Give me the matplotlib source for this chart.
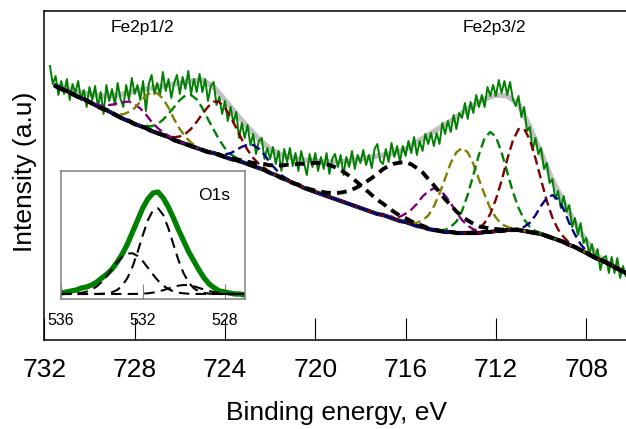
import numpy as np
import matplotlib
matplotlib.use('Agg')
import matplotlib.pyplot as plt

plt.rcParams['font.family'] = ['Liberation Sans', 'DejaVu Sans']

# --- Fe2p spectrum (raw counts, arbitrary units), 731.75 -> 706.25 eV every 0.125 eV
spectrum = [
    274, 256, 264, 245, 259, 246, 261,
    240, 256, 247, 259, 240, 250, 233, 253,
    240, 254, 233, 248, 226, 255, 239, 251,
    235, 257, 241, 233, 255, 240, 262, 246,
    255, 240, 259, 229, 256, 265, 246, 257,
    245, 268, 249, 261, 242, 257, 265, 246,
    263, 251, 269, 246, 261, 248, 266, 248,
    261, 239, 254, 258, 235, 243, 226, 239,
    219, 233, 217, 228, 202, 217, 202, 215,
    195, 206, 186, 199, 202, 181, 192, 181,
    193, 176, 189, 169, 191, 178, 192, 174,
    187, 169, 189, 177, 165, 186, 173, 187,
    169, 183, 171, 187, 166, 181, 186, 173,
    185, 165, 183, 173, 189, 171, 185, 177,
    190, 175, 185, 172, 191, 196, 179, 176,
    191, 178, 197, 183, 194, 178, 194, 184,
    199, 187, 203, 185, 199, 189, 206, 196,
    207, 194, 207, 196, 217, 206, 219, 208,
    225, 211, 227, 222, 237, 221, 238, 227,
    245, 233, 245, 233, 253, 244, 255, 244,
    260, 247, 259, 245, 258, 241, 234, 244,
    223, 233, 209, 213, 190, 202, 186, 192,
    171, 177, 157, 161, 141, 149, 132, 144,
    128, 135, 113, 122, 105, 117, 97, 102,
    86, 96, 81, 91, 70, 82, 84, 67,
    83, 67, 82, 62, 74, 64,
]
spec_e = np.linspace(731.75, 706.25, len(spectrum))

# fit envelope, 731.5 -> 706.5 eV every 0.5 eV
envelope = [255, 251, 248, 246, 244, 244, 246, 249, 251, 253,
            255, 257, 259, 260, 253, 240, 226, 213, 201, 191,
            185, 182, 180, 179, 178, 178, 179, 181, 183, 185,
            187, 191, 198, 205, 212, 219, 227, 235, 241, 245,
            244, 236, 213, 187, 160, 138, 117, 99, 84, 76, 70]
env_e = np.linspace(731.5, 706.5, len(envelope))

# Shirley background, 731.5 -> 706.25 eV every 0.25 eV
background = np.array([
    254, 251, 249,
    246, 243, 241, 238, 235, 232, 230, 227, 224, 221, 219, 216,
    214, 212, 209, 207, 205, 203, 200, 198, 196, 194, 192, 190,
    188, 187, 185, 183, 181, 180, 178, 176, 174, 172, 170, 167,
    165, 162, 160, 157, 155, 152, 150, 148, 146, 144, 142, 140,
    138, 136, 134, 132, 130, 128, 126, 125, 123, 121, 119, 118,
    116, 114, 113, 111, 110, 109, 108, 108, 107, 107, 107, 107,
    107, 108, 108, 109, 109, 110, 110, 110, 109, 108, 107, 106,
    104, 102, 100, 98, 95, 93, 90, 87, 84, 81, 79, 76,
    73, 70, 67,
], dtype=float)
bg_e = np.linspace(731.5, 706.25, len(background))

# fitted Fe components (centre eV, height, sigma eV)
fe_centers = [728.1, 727.05, 725.5, 724.3, 722.75, 714.65, 713.5, 712.25, 710.85, 709.45]
fe_heights = [20, 40, 51, 53, 21, 42, 85, 100, 103, 43]
fe_widths = [0.68, 0.7, 0.8, 0.8, 0.62, 0.75, 0.78, 0.72, 0.75, 0.6]
fe_colors = ['#800080', '#808000', '#008000', '#800000', '#000080'] * 2

sat_centers = [719.3, 715.9]
sat_heights = [32, 60]
sat_widths = [1.6, 1.5]

# O1s inset, 536 -> 527 eV every 0.25 eV
o1s = [6, 7, 8, 9, 11, 12, 14, 17, 21, 25, 30, 37, 45, 55, 67, 79, 91,
       100, 106, 107, 101, 92, 81, 69, 58, 47, 38, 29, 21, 15, 11, 8, 7,
       6, 5, 5, 4]
o_e = np.linspace(536, 527, len(o1s))
o_base = 5
o_centers = [531.32, 532.6, 529.95]
o_heights = [86, 41, 9]
o_widths = [0.78, 0.9, 0.8]

fig = plt.figure(figsize=(6.26, 4.29), dpi=100)
ax = fig.add_axes([44.3 / 626, 89 / 429, 1 - 44.3 / 626, 329.3 / 429])

ax.plot(env_e, envelope, color='#c0c0c0', lw=3.8, solid_capstyle='round')
ax.plot(spec_e, spectrum, color='#008000', lw=1.4)
ax.plot(bg_e, background, color='black', lw=3)
for c, h, w, col in zip(fe_centers, fe_heights, fe_widths, fe_colors):
    ax.plot(bg_e, background + h * np.exp(-(bg_e - c) ** 2 / (2 * w ** 2)),
            color=col, lw=1.7, ls=(0, (4, 2)))
for c, h, w in zip(sat_centers, sat_heights, sat_widths):
    ax.plot(bg_e, background + h * np.exp(-(bg_e - c) ** 2 / (2 * w ** 2)),
            color='black', lw=2.8, ls=(0, (2.5, 1.6)))

ax.set_xlim(732, 706.24)
ax.set_ylim(0, 329.3)
ax.set_xticks([732, 728, 724, 720, 716, 712, 708])
ax.tick_params(axis='x', direction='in', length=16, width=0.8, pad=13, labelsize=19)
ax.set_yticks([])
ax.spines['right'].set_visible(False)
for s in ['left', 'top', 'bottom']:
    ax.spines[s].set_linewidth(1.1)
ax.set_xlabel('Binding energy, eV', fontsize=19)
ax.xaxis.set_label_coords(0.503, -0.185)
ax.set_ylabel('Intensity (a.u)', fontsize=19)
ax.yaxis.set_label_coords(-0.012, 0.51)

ax.text(727.67, 313, 'Fe2p1/2', fontsize=12.5, ha='center', va='center')
ax.text(712.05, 313, 'Fe2p3/2', fontsize=12.5, ha='center', va='center')

# inset
axin = fig.add_axes([61 / 626, 130 / 429, 184 / 626, 128 / 429])
axin.plot(o_e, o1s, color='#008000', lw=3.8, solid_capstyle='round')
for c, h, w in zip(o_centers, o_heights, o_widths):
    axin.plot(o_e, o_base + h * np.exp(-(o_e - c) ** 2 / (2 * w ** 2)),
              color='black', lw=1.5, ls=(0, (5, 3)))
axin.set_xlim(536, 527)
axin.set_ylim(0, 128)
axin.set_xticks([536, 532, 528])
axin.tick_params(axis='x', direction='in', length=11, width=0.8, color='#808080',
                 pad=10, labelsize=11.5)
axin.set_yticks([])
for s in axin.spines.values():
    s.set_color('#808080')
    s.set_linewidth(1.1)
axin.text(528.5, 104, 'O1s', fontsize=12.5, ha='center', va='center')

fig.savefig('out.png', dpi=100, facecolor='white')
